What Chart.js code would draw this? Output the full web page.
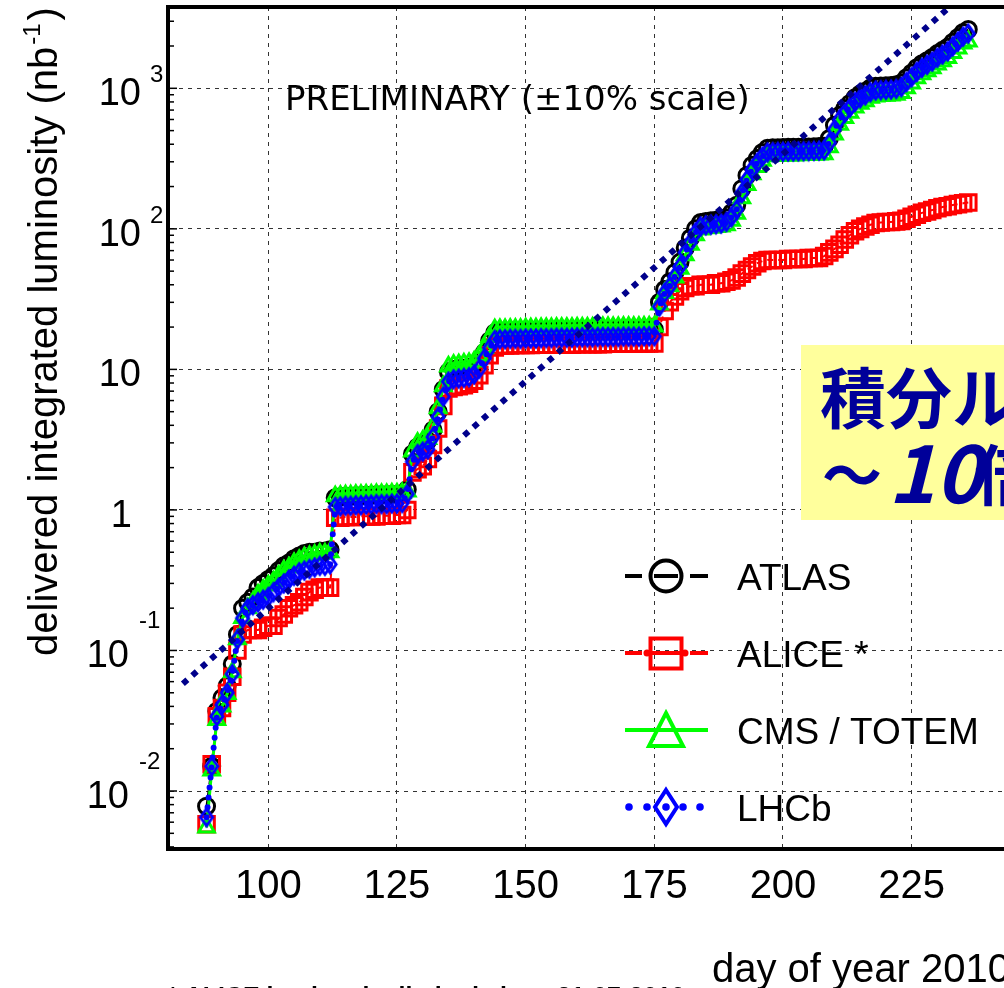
<!DOCTYPE html>
<html>
<head>
<meta charset="utf-8">
<script src="https://cdn.jsdelivr.net/npm/chart.js@4.4.1/dist/chart.umd.min.js"></script>
<style>
html,body{margin:0;padding:0;background:#fff;overflow:hidden;}
#wrap{position:relative;width:1004px;height:988px;}
canvas{display:block;}
</style>
</head>
<body>
<div id="wrap"><canvas id="c" width="1004" height="988"></canvas></div>
<script>
// ---------------- data ----------------
const days = [88,89,90,91,92,93,94,95,96,97,98,99,100,101,102,103,104,105,106,107,108,109,110,111,112,
  113,114,115,116,117,118,119,120,121,122,123,124,125,126,
  127,128,129,130,131,132,133,134,135,136,137,138,139,140,141,142,143,144,
  145,146,147,148,149,150,151,152,153,154,155,156,157,158,159,160,161,162,163,164,165,166,167,168,169,170,171,172,173,174,175,
  176,177,178,179,180,181,182,183,184,185,186,187,188,189,190,191,192,193,194,195,196,197,198,199,200,201,202,203,204,205,206,207,208,
  209,210,211,212,213,214,215,216,217,218,219,220,221,222,223,224,225,226,227,228,229,230,231,232,233,234,235,236];

const atlas = [0.0078,0.015,0.037,0.046,0.056,0.08,0.13,0.2,0.22,0.24,0.28,0.3,0.32,0.34,0.37,0.4,0.42,0.45,0.47,0.49,0.5,0.5,0.51,0.51,0.52,
  1.22,1.24,1.25,1.25,1.26,1.26,1.27,1.27,1.28,1.28,1.28,1.29,1.29,1.3,
  1.4,2.5,2.8,2.9,3.1,3.7,5.0,7.2,9.6,10,10.1,10.2,10.3,10.6,11.6,13.2,16,18.2,
  18.4,18.4,18.5,18.5,18.5,18.6,18.6,18.6,18.7,18.7,18.7,18.8,18.8,18.8,18.8,18.9,18.9,18.9,18.9,19,19,19,19,19,19.1,19.1,19.1,19.1,19.2,19.2,19.2,
  30,37,42,49,58,73,86,100,111,113,114,115,117,120,130,147,193,240,284,316,350,375,377,378,379,380,380,381,382,383,384,385,387,
  439,546,642,717,781,856,910,952,1006,1033,1038,1043,1049,1059,1091,1188,1284,1402,1498,1573,1659,1766,1862,1958,2129,2300,2493,2620];

const alice = [0.0058,0.0155,0.034,0.039,0.05,0.065,0.1,0.13,0.14,0.14,0.14,0.145,0.15,0.15,0.17,0.18,0.2,0.21,0.22,0.24,0.26,0.27,0.28,0.28,0.28,
  0.88,0.88,0.89,0.89,0.89,0.9,0.9,0.9,0.9,0.91,0.91,0.91,0.92,0.92,
  1.0,1.85,1.95,2.05,2.3,2.9,3.8,5.5,7.3,7.5,7.6,7.7,7.9,8.3,9.1,10.7,12.6,14.3,
  14.8,14.8,14.8,14.9,14.9,14.9,14.9,15,15,15,15,15,15,15,15,15.1,15.1,15.1,15.1,15.1,15.1,15.2,15.2,15.2,15.2,15.2,15.2,15.3,15.3,15.3,15.3,
  20,26,30,33,36,38,39,39,40,40,40,41,41,42,43,45,48,51,54,57,59,60,60,60,60,61,61,61,61,62,62,62,64,
  68,72,77,84,90,96,100,104,107,110,111,112,112,113,114,118,122,126,130,133,136,140,143,145,148,150,152,154];

const cms = [0.0055,0.014,0.032,0.04,0.049,0.07,0.12,0.17,0.2,0.22,0.25,0.27,0.29,0.31,0.34,0.37,0.39,0.42,0.44,0.46,0.47,0.48,0.49,0.49,0.5,
  1.25,1.26,1.27,1.27,1.28,1.28,1.29,1.29,1.3,1.3,1.3,1.31,1.31,1.32,
  1.35,2.6,3.0,3.1,3.2,3.9,5.3,7.6,10.5,10.8,10.9,11,11.1,11.4,12.5,14.2,17,19.3,
  19.4,19.4,19.5,19.5,19.5,19.6,19.6,19.6,19.7,19.7,19.7,19.8,19.8,19.8,19.8,19.9,19.9,19.9,19.9,20,20,20,20,20,20.1,20.1,20.1,20.1,20.2,20.2,20.2,
  29,35,39,45,52,65,77,90,99,101,102,103,104,106,114,128,165,205,245,275,305,328,330,331,332,333,333,334,335,336,337,338,340,
  380,470,550,615,670,730,775,810,855,875,880,885,890,900,925,1000,1080,1180,1260,1320,1390,1480,1560,1640,1780,1920,2080,2150];

const lhcb = [0.0065,0.015,0.034,0.041,0.05,0.068,0.12,0.17,0.2,0.21,0.22,0.23,0.24,0.26,0.28,0.3,0.32,0.34,0.36,0.37,0.38,0.39,0.4,0.4,0.41,
  1.05,1.06,1.07,1.07,1.08,1.08,1.09,1.09,1.1,1.1,1.1,1.11,1.11,1.12,
  1.3,2.2,2.5,2.6,2.7,3.3,4.6,6.4,8.2,8.5,8.6,8.7,8.8,9.2,10.1,12,14.2,16.2,
  16.4,16.4,16.5,16.5,16.5,16.6,16.6,16.6,16.7,16.7,16.7,16.8,16.8,16.8,16.8,16.9,16.9,16.9,16.9,17,17,17,17,17,17.1,17.1,17.1,17.1,17.2,17.2,17.2,
  28,35,39,46,54,68,80,94,104,106,107,108,109,112,121,137,180,224,265,295,327,350,352,353,354,355,355,356,357,358,359,360,362,
  410,510,600,670,730,800,850,890,940,965,970,975,980,990,1020,1110,1200,1310,1400,1470,1550,1650,1740,1830,1990,2150,2330,2450];

const trendDays = [83.4, 232.4];
const trendValues = [0.058, 3800];

const seriesNames = ['ATLAS', 'ALICE *', 'CMS / TOTEM', 'LHCb'];

const xTickValues = [100, 125, 150, 175, 200, 225];
const xTickLabels = ['100', '125', '150', '175', '200', '225'];
const yTickValues = [0.01, 0.1, 1, 10, 100, 1000];
const yTickBase = ['10', '10', '1', '10', '10', '10'];
const yTickExp = ['-2', '-1', '', '', '2', '3'];

const xTitle = 'day of year 2010';
const yTitle = 'delivered integrated luminosity (nb';
const yTitleSup = '-1';
const yTitleEnd = ')';
const prelimText = 'PRELIMINARY (\u00b110% scale)';
const boxLine1 = '積分ル';
const boxLine2a = '～';
const boxLine2b = '10';
const boxLine2c = '倍';
const footText = '* ALICE luminosity limited since 21-07-2010';

// ---------------- helpers ----------------
function pts(vals) { return days.map((d, i) => ({ x: d, y: vals[i] })); }
function diamondImg(color, w, h, lw) {
  const c = document.createElement('canvas');
  c.width = w + lw * 2; c.height = h + lw * 2;
  const g = c.getContext('2d');
  g.strokeStyle = color; g.lineWidth = lw; g.lineJoin = 'miter';
  const cx = c.width / 2, cy = c.height / 2;
  g.beginPath();
  g.moveTo(cx, cy - h / 2); g.lineTo(cx + w / 2, cy); g.lineTo(cx, cy + h / 2); g.lineTo(cx - w / 2, cy);
  g.closePath(); g.stroke();
  return c;
}

const SANS = '"Liberation Sans", Arial, Helvetica, sans-serif';

const decor = {
  id: 'decor',
  afterDraw(chart) {
    const ctx = chart.ctx, xs = chart.scales.x, ys = chart.scales.y, a = chart.chartArea;
    ctx.save();
    // top frame
    ctx.strokeStyle = '#000'; ctx.lineWidth = 4;
    ctx.beginPath(); ctx.moveTo(a.left - 2, a.top); ctx.lineTo(a.right, a.top); ctx.stroke();
    // minor ticks on y axis
    ctx.lineWidth = 1.5;
    for (let k = -3; k <= 3; k++) {
      for (let m = 1; m <= 9; m++) {
        const v = m * Math.pow(10, k);
        if (v < ys.min || v > ys.max) continue;
        const y = ys.getPixelForValue(v);
        ctx.beginPath(); ctx.moveTo(a.left, y); ctx.lineTo(a.left + (m === 1 ? 9 : 6), y); ctx.stroke();
      }
    }
    // y tick labels
    ctx.fillStyle = '#000';
    ctx.textBaseline = 'alphabetic';
    yTickValues.forEach((v, i) => {
      const y = ys.getPixelForValue(v);
      const base = yTickBase[i], exp = yTickExp[i];
      const neg = exp.charAt(0) === '-';
      ctx.font = '38px ' + SANS;
      ctx.textAlign = 'right';
      const right = exp ? (neg ? 129 : 141) : (base.length === 1 ? 132 : 141);
      ctx.fillText(base, right, y + 17);
      if (exp) {
        ctx.font = '24px ' + SANS;
        ctx.textAlign = 'left';
        ctx.fillText(exp, neg ? 139 : 150, neg ? y - 22 : y - 6);
      }
    });
    // x tick labels
    ctx.font = '40px ' + SANS;
    ctx.textAlign = 'center';
    xTickValues.forEach((v, i) => {
      ctx.fillText(xTickLabels[i], xs.getPixelForValue(v), 898);
    });
    // x title
    ctx.textAlign = 'left';
    ctx.fillText(xTitle, 712, 982);
    // y title (rotated)
    ctx.save();
    ctx.translate(57, 656);
    ctx.rotate(-Math.PI / 2);
    ctx.font = '40px ' + SANS;
    ctx.fillText(yTitle, 0, 0);
    const w1 = ctx.measureText(yTitle).width;
    ctx.font = '24px ' + SANS;
    ctx.fillText(yTitleSup, w1 + 2, -17);
    const w2 = ctx.measureText(yTitleSup).width;
    ctx.font = '40px ' + SANS;
    ctx.fillText(yTitleEnd, w1 + w2 + 5, 0);
    ctx.restore();
    // preliminary
    ctx.font = '34px "DejaVu Sans", ' + SANS;
    ctx.fillText(prelimText, 285, 110);
    // footnote (only its top shows at the bottom edge)
    ctx.font = 'bold 25px ' + SANS;
    ctx.fillText(footText, 168, 1005);
    // legend
    const ds = chart.data.datasets;
    const ly0 = 576, ldy = 77;
    for (let i = 0; i < 4; i++) {
      const y = ly0 + i * ldy;
      const d = ds[i + 1];
      ctx.strokeStyle = d.borderColor; ctx.fillStyle = d.borderColor;
      ctx.lineWidth = 4; ctx.setLineDash([]); ctx.lineCap = 'butt';
      if (i === 0) {
        [[625, 642], [654, 678], [690, 708]].forEach(s => { ctx.beginPath(); ctx.moveTo(s[0], y); ctx.lineTo(s[1], y); ctx.stroke(); });
        ctx.beginPath(); ctx.arc(666, y, 15.5, 0, Math.PI * 2); ctx.stroke();
      } else if (i === 1) {
        [[625, 642], [652, 680], [690, 708]].forEach(s => { ctx.beginPath(); ctx.moveTo(s[0], y); ctx.lineTo(s[1], y); ctx.stroke(); });
        [647, 685].forEach(px => { ctx.beginPath(); ctx.arc(px, y, 3.5, 0, Math.PI * 2); ctx.fill(); });
        ctx.strokeRect(650.5, y - 14.5, 31, 30);
      } else if (i === 2) {
        ctx.beginPath(); ctx.moveTo(625, y); ctx.lineTo(708, y); ctx.stroke();
        ctx.beginPath(); ctx.moveTo(666, y - 17); ctx.lineTo(683, y + 16); ctx.lineTo(649, y + 16); ctx.closePath(); ctx.stroke();
      } else {
        [629, 647, 666, 683, 700].forEach(px => { ctx.beginPath(); ctx.arc(px, y, 3.8, 0, Math.PI * 2); ctx.fill(); });
        ctx.beginPath(); ctx.moveTo(666, y - 17); ctx.lineTo(677, y); ctx.lineTo(666, y + 17); ctx.lineTo(655, y); ctx.closePath(); ctx.stroke();
      }
      ctx.fillStyle = '#000';
      ctx.font = '37px ' + SANS;
      ctx.textAlign = 'left';
      ctx.fillText(seriesNames[i], 737, y + 14);
    }
    // yellow box
    ctx.fillStyle = '#ffff9c';
    ctx.fillRect(801, 345, 220, 175);
    ctx.fillStyle = '#000099';
    ctx.font = 'bold 66px "Noto Sans CJK JP", sans-serif';
    ctx.fillText(boxLine1, 820, 423);
    ctx.font = 'bold 60px "Noto Sans CJK JP", sans-serif';
    ctx.fillText(boxLine2a, 822, 498);
    ctx.font = 'italic bold 80px "Noto Sans CJK JP", ' + SANS;
    ctx.fillText(boxLine2b, 888, 503);
    ctx.font = 'bold 66px "Noto Sans CJK JP", sans-serif';
    ctx.fillText(boxLine2c, 975, 500);
    ctx.restore();
  }
};

const gridOpts = { color: '#333', lineWidth: 1, drawTicks: false };
const borderOpts = { display: true, color: '#000', width: 4, dash: [4, 5] };

new Chart(document.getElementById('c'), {
  type: 'scatter',
  data: {
    datasets: [
      { label: 'trend', data: trendDays.map((d, i) => ({ x: d, y: trendValues[i] })), showLine: true,
        borderColor: '#00008b', borderWidth: 6, borderDash: [6, 6.5], pointRadius: 0, order: 0 },
      { label: seriesNames[0], data: pts(atlas), showLine: true, order: 4,
        borderColor: '#000000', borderWidth: 2, borderDash: [6, 5],
        pointStyle: 'circle', pointRadius: 8, pointBorderWidth: 3, pointBorderColor: '#000000', pointBackgroundColor: 'rgba(0,0,0,0)' },
      { label: seriesNames[1], data: pts(alice), showLine: true, order: 3,
        borderColor: '#ff0000', borderWidth: 2, borderDash: [6, 5],
        pointStyle: 'rect', pointRadius: 11, pointBorderWidth: 3, pointBorderColor: '#ff0000', pointBackgroundColor: 'rgba(0,0,0,0)' },
      { label: seriesNames[2], data: pts(cms), showLine: true, order: 2,
        borderColor: '#00ff00', borderWidth: 3,
        pointStyle: 'triangle', pointRadius: 9, pointBorderWidth: 3, pointBorderColor: '#00ff00', pointBackgroundColor: 'rgba(0,0,0,0)' },
      { label: seriesNames[3], data: pts(lhcb), showLine: true, order: 1,
        borderColor: '#0000ff', borderWidth: 6, borderDash: [0, 10], borderCapStyle: 'round',
        pointStyle: diamondImg('#0000ff', 12, 17, 3), pointRadius: 8 }
    ]
  },
  options: {
    responsive: false,
    animation: false,
    devicePixelRatio: 1,
    layout: { autoPadding: false, padding: { left: 168, top: 7, right: 0, bottom: 139 } },
    plugins: { legend: { display: false }, tooltip: { enabled: false } },
    elements: { line: { tension: 0 } },
    scales: {
      x: {
        type: 'linear', position: 'bottom', min: 80.51, max: 242.94,
        ticks: { display: false }, grid: gridOpts, border: borderOpts,
        afterBuildTicks: s => { s.ticks = xTickValues.map(v => ({ value: v })); },
        afterFit: s => { s.height = 0; }
      },
      y: {
        type: 'logarithmic', position: 'left', min: 0.003867, max: 3789,
        ticks: { display: false }, grid: gridOpts, border: borderOpts,
        afterBuildTicks: s => { s.ticks = yTickValues.map(v => ({ value: v })); },
        afterFit: s => { s.width = 0; }
      }
    }
  },
  plugins: [decor]
});
</script>
</body>
</html>
